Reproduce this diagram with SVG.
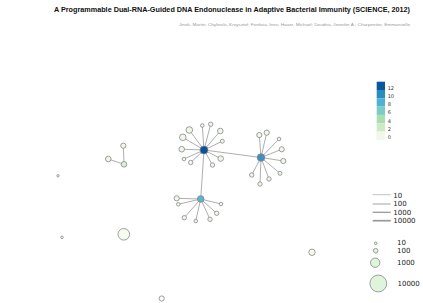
<svg xmlns="http://www.w3.org/2000/svg" width="423" height="303" viewBox="0 0 423 303">
<style>
.e{stroke:#999;stroke-width:0.8;fill:none}
.n{stroke:#888;stroke-width:0.8}
.l{fill:#eef8e8}
.lg{font-family:"DejaVu Sans",sans-serif;font-size:7px;fill:#222}
.cb{font-family:"DejaVu Sans",sans-serif;font-size:5px;fill:#333}
</style>
<rect width="423" height="303" fill="#fff"/>
<text x="410" y="12" text-anchor="end" font-family="'Liberation Sans',Arial,sans-serif" font-size="6.5" font-weight="bold" fill="#111" textLength="356" lengthAdjust="spacingAndGlyphs">A Programmable Dual-RNA-Guided DNA Endonuclease in Adaptive Bacterial Immunity (SCIENCE, 2012)</text>
<text x="410" y="26" text-anchor="end" font-family="'Liberation Sans',Arial,sans-serif" font-size="4.3" fill="#999" textLength="231" lengthAdjust="spacingAndGlyphs">Jinek, Martin; Chylinski, Krzysztof; Fonfara, Ines; Hauer, Michael; Doudna, Jennifer A.; Charpentier, Emmanuelle</text>
<g id="connectors">
<line class="e" x1="204" y1="150" x2="261" y2="157.5"/>
<line class="e" x1="204" y1="150" x2="200.7" y2="199"/>
<line class="e" x1="204" y1="150" x2="202.3" y2="125.5"/>
<line class="e" x1="204" y1="150" x2="210.7" y2="124.2"/>
<line class="e" x1="204" y1="150" x2="220.3" y2="131"/>
<line class="e" x1="204" y1="150" x2="222.3" y2="141.2"/>
<line class="e" x1="204" y1="150" x2="220.7" y2="158.6"/>
<line class="e" x1="204" y1="150" x2="212.5" y2="165"/>
<line class="e" x1="204" y1="150" x2="189.3" y2="130"/>
<line class="e" x1="204" y1="150" x2="182.8" y2="137.3"/>
<line class="e" x1="204" y1="150" x2="181.7" y2="149.2"/>
<line class="e" x1="204" y1="150" x2="184" y2="159"/>
<line class="e" x1="204" y1="150" x2="190.7" y2="162.5"/>
<line class="e" x1="261" y1="157.5" x2="259.3" y2="135"/>
<line class="e" x1="261" y1="157.5" x2="266.7" y2="132.7"/>
<line class="e" x1="261" y1="157.5" x2="279" y2="139"/>
<line class="e" x1="261" y1="157.5" x2="281.7" y2="149.3"/>
<line class="e" x1="261" y1="157.5" x2="283.3" y2="161"/>
<line class="e" x1="261" y1="157.5" x2="280" y2="173.3"/>
<line class="e" x1="261" y1="157.5" x2="269" y2="179"/>
<line class="e" x1="261" y1="157.5" x2="260" y2="184"/>
<line class="e" x1="261" y1="157.5" x2="251.7" y2="175"/>
<line class="e" x1="200.7" y1="199" x2="176.7" y2="198.3"/>
<line class="e" x1="200.7" y1="199" x2="178.3" y2="204.3"/>
<line class="e" x1="200.7" y1="199" x2="184.3" y2="217.7"/>
<line class="e" x1="200.7" y1="199" x2="195.7" y2="221"/>
<line class="e" x1="200.7" y1="199" x2="210" y2="219.3"/>
<line class="e" x1="200.7" y1="199" x2="216.7" y2="213.3"/>
<line class="e" x1="200.7" y1="199" x2="221" y2="204"/>
<line class="e" x1="108.3" y1="159" x2="124" y2="164.3"/>
<line class="e" x1="123.3" y1="145.7" x2="124" y2="164.3"/>
</g>
<g id="n-hub1"><circle class="n" cx="204" cy="150" r="4" fill="#08519c"/></g>
<g id="n-hub2"><circle class="n" cx="261" cy="157.5" r="3.8" fill="#3a8fc4"/></g>
<g id="n-hub3"><circle class="n" cx="200.7" cy="199" r="3.3" fill="#5ab4d6"/></g>
<g id="n-a1"><circle class="n l" cx="202.3" cy="125.5" r="1.8"/></g>
<g id="n-a2"><circle class="n l" cx="210.7" cy="124.2" r="2.2"/></g>
<g id="n-a3"><circle class="n l" cx="220.3" cy="131" r="2.8"/></g>
<g id="n-a4"><circle class="n l" cx="222.3" cy="141.2" r="2"/></g>
<g id="n-a5"><circle class="n l" cx="220.7" cy="158.6" r="2.8"/></g>
<g id="n-a6"><circle class="n l" cx="212.5" cy="165" r="2.2"/></g>
<g id="n-a7"><circle class="n l" cx="189.3" cy="130" r="3.3"/></g>
<g id="n-a8"><circle class="n l" cx="182.8" cy="137.3" r="3.3"/></g>
<g id="n-a9"><circle class="n l" cx="181.7" cy="149.2" r="2.8"/></g>
<g id="n-a10"><circle class="n l" cx="184" cy="159" r="1.8"/></g>
<g id="n-a11"><circle class="n l" cx="190.7" cy="162.5" r="2.2"/></g>
<g id="n-b1"><circle class="n l" cx="259.3" cy="135" r="2.6"/></g>
<g id="n-b2"><circle class="n l" cx="266.7" cy="132.7" r="2.6"/></g>
<g id="n-b3"><circle class="n l" cx="279" cy="139" r="1.8"/></g>
<g id="n-b4"><circle class="n l" cx="281.7" cy="149.3" r="2.6"/></g>
<g id="n-b5"><circle class="n l" cx="283.3" cy="161" r="2.6"/></g>
<g id="n-b6"><circle class="n l" cx="280" cy="173.3" r="2"/></g>
<g id="n-b7"><circle class="n l" cx="269" cy="179" r="2.2"/></g>
<g id="n-b8"><circle class="n l" cx="260" cy="184" r="2.2"/></g>
<g id="n-b9"><circle class="n l" cx="251.7" cy="175" r="2.2"/></g>
<g id="n-c1"><circle class="n l" cx="176.7" cy="198.3" r="2.6"/></g>
<g id="n-c2"><circle class="n l" cx="178.3" cy="204.3" r="1.8"/></g>
<g id="n-c3"><circle class="n l" cx="184.3" cy="217.7" r="2.2"/></g>
<g id="n-c4"><circle class="n l" cx="195.7" cy="221" r="1.8"/></g>
<g id="n-c5"><circle class="n l" cx="210" cy="219.3" r="2.2"/></g>
<g id="n-c6"><circle class="n l" cx="216.7" cy="213.3" r="2.2"/></g>
<g id="n-c7"><circle class="n l" cx="221" cy="204" r="1.8"/></g>
<g id="n-d1"><circle class="n l" cx="123.3" cy="145.7" r="2.6"/></g>
<g id="n-d2"><circle class="n l" cx="108.3" cy="159" r="2.8"/></g>
<g id="n-d3"><circle class="n" cx="124" cy="164.3" r="2.8" fill="#dcf0d4"/></g>
<g id="n-i1"><circle class="n" cx="58" cy="175.8" r="1.2" fill="#f7fcf0"/></g>
<g id="n-i2"><circle class="n" cx="62" cy="237.3" r="1.3" fill="#f7fcf0"/></g>
<g id="n-i3"><circle class="n" cx="123.8" cy="234.3" r="5.8" fill="#f7fcf0"/></g>
<g id="n-i4"><circle class="n" cx="161.7" cy="298.5" r="2.6" fill="#f7fcf0"/></g>
<g id="n-i5"><circle class="n" cx="312" cy="252.3" r="3.2" fill="#f7fcf0"/></g>
<g id="colorbar">
<rect x="376.7" y="81.7" width="8.3" height="8.3" fill="#08589e"/>
<rect x="376.7" y="90" width="8.3" height="8.3" fill="#2b8cbe"/>
<rect x="376.7" y="98.3" width="8.3" height="8.3" fill="#4eb3d3"/>
<rect x="376.7" y="106.6" width="8.3" height="8.3" fill="#7bccc4"/>
<rect x="376.7" y="114.9" width="8.3" height="8.3" fill="#a8ddb5"/>
<rect x="376.7" y="123.2" width="8.3" height="8.3" fill="#ccebc5"/>
<rect x="376.7" y="131.5" width="8.3" height="8.3" fill="#f0f9e8" stroke="#eee" stroke-width="0.3"/>
<text class="cb" x="387.7" y="89.5">12</text>
<text class="cb" x="387.7" y="97.5">10</text>
<text class="cb" x="387.7" y="105.5">8</text>
<text class="cb" x="387.7" y="114">6</text>
<text class="cb" x="387.7" y="122.5">4</text>
<text class="cb" x="387.7" y="130.5">2</text>
<text class="cb" x="387.7" y="138.5">0</text>
</g>
<g id="legend-edges">
<line x1="372.7" y1="194.7" x2="390.7" y2="194.7" stroke="#999" stroke-width="0.6"/>
<line x1="372.7" y1="204" x2="390.7" y2="204" stroke="#999" stroke-width="0.9"/>
<line x1="372.7" y1="212.3" x2="390.7" y2="212.3" stroke="#999" stroke-width="1.3"/>
<line x1="372.7" y1="220.7" x2="390.7" y2="220.7" stroke="#999" stroke-width="1.7"/>
<text class="lg" x="393.3" y="197.5">10</text>
<text class="lg" x="393.3" y="206.3">100</text>
<text class="lg" x="393.3" y="214.7">1000</text>
<text class="lg" x="393.3" y="223">10000</text>
</g>
<g id="legend-sizes">
<circle class="n" cx="375.7" cy="243.3" r="1.3" fill="#e0f3db"/>
<circle class="n" cx="375.7" cy="250.7" r="2.3" fill="#e0f3db"/>
<circle class="n" cx="375.2" cy="262.7" r="4.7" fill="#e0f3db"/>
<circle class="n" cx="378.3" cy="283.5" r="8.4" fill="#e0f3db"/>
<text class="lg" x="397" y="245">10</text>
<text class="lg" x="397" y="252.5">100</text>
<text class="lg" x="397" y="265">1000</text>
<text class="lg" x="397.5" y="286">10000</text>
</g>
</svg>
